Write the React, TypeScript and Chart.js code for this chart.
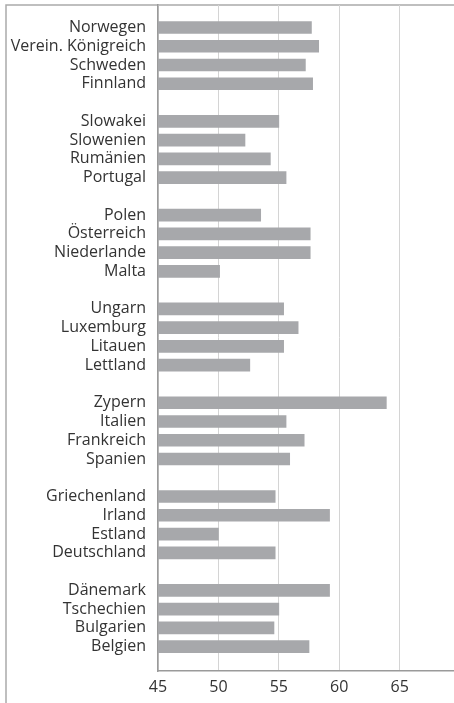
import React, { useEffect, useRef } from 'react';
import { Chart, registerables } from 'chart.js';

Chart.register(...registerables);

const categories: string[] = [
  'Norwegen', 'Verein. Königreich', 'Schweden', 'Finnland', '',
  'Slowakei', 'Slowenien', 'Rumänien', 'Portugal', '',
  'Polen', 'Österreich', 'Niederlande', 'Malta', '',
  'Ungarn', 'Luxemburg', 'Litauen', 'Lettland', '',
  'Zypern', 'Italien', 'Frankreich', 'Spanien', '',
  'Griechenland', 'Irland', 'Estland', 'Deutschland', '',
  'Dänemark', 'Tschechien', 'Bulgarien', 'Belgien',
];

const values: (number | null)[] = [
  57.7, 58.3, 57.2, 57.8, null,
  55.0, 52.2, 54.3, 55.6, null,
  53.5, 57.6, 57.6, 50.1, null,
  55.4, 56.6, 55.4, 52.6, null,
  63.9, 55.6, 57.1, 55.9, null,
  54.7, 59.2, 50.0, 54.7, null,
  59.2, 55.0, 54.6, 57.5,
];

const xTicks: number[] = [45, 50, 55, 60, 65];

const FONT = '"Open Sans", "DejaVu Sans", sans-serif';

const framePlugin = {
  id: 'frame',
  beforeDraw(chart: any) {
    const ctx = chart.ctx;
    ctx.save();
    ctx.strokeStyle = '#ababab';
    ctx.lineWidth = 1.5;
    ctx.beginPath();
    ctx.moveTo(6, 703);
    ctx.lineTo(6, 5);
    ctx.lineTo(454, 5);
    ctx.stroke();
    ctx.restore();
  },
};

export default function App() {
  const ref = useRef<HTMLCanvasElement | null>(null);

  useEffect(() => {
    if (!ref.current) return;
    const points = categories
      .map((c, i) => ({ x: values[i], y: i, c }))
      .filter((p) => p.c !== '' && p.x !== null)
      .map((p) => ({ x: p.x as number, y: p.y }));

    const chart = new Chart(ref.current, {
      type: 'bar',
      data: {
        datasets: [
          {
            data: points as any,
            backgroundColor: '#a7a8ab',
            borderWidth: 0,
            barThickness: 12,
          },
        ],
      },
      plugins: [framePlugin],
      options: {
        animation: false,
        responsive: false,
        maintainAspectRatio: false,
        indexAxis: 'y',
        layout: { padding: { top: 5, right: 0, bottom: 0, left: 0 } },
        plugins: {
          legend: { display: false },
          tooltip: { enabled: false },
        },
        scales: {
          x: {
            type: 'linear',
            position: 'bottom',
            min: 45,
            max: 69.5,
            afterBuildTicks: (scale: any) => {
              scale.ticks = xTicks.map((v) => ({ value: v }));
            },
            afterFit: (scale: any) => {
              scale.height = 32;
              scale.paddingLeft = 0;
              scale.paddingRight = 0;
            },
            grid: {
              color: '#d4d4d4',
              lineWidth: 1,
              drawTicks: false,
            },
            border: { display: true, color: '#9a9a9a', width: 1.5 },
            ticks: {
              padding: 7,
              color: '#333',
              font: { family: FONT, size: 16 },
              callback: (v: any) => String(v),
            },
          },
          y: {
            type: 'linear',
            position: 'left',
            reverse: true,
            min: -1.2,
            max: 34.3,
            offset: false,
            afterBuildTicks: (scale: any) => {
              scale.ticks = categories
                .map((c, i) => ({ value: i, c }))
                .filter((t) => t.c !== '')
                .map((t) => ({ value: t.value }));
            },
            afterFit: (scale: any) => {
              scale.width = 158;
              scale.paddingTop = 0;
              scale.paddingBottom = 0;
            },
            grid: { display: false, drawTicks: false, offset: false },
            border: { display: true, color: '#9a9a9a', width: 1.5 },
            ticks: {
              autoSkip: false,
              padding: 12,
              color: '#333',
              font: { family: FONT, size: 16 },
              callback: (v: any) => categories[v as number] ?? '',
            },
          },
        },
      },
    });
    return () => chart.destroy();
  }, []);

  return (
    <div style={{ position: 'absolute', left: 0, top: 0, width: 454, height: 703 }}>
      <canvas ref={ref} width={454} height={703} style={{ width: 454, height: 703 }} />
    </div>
  );
}
